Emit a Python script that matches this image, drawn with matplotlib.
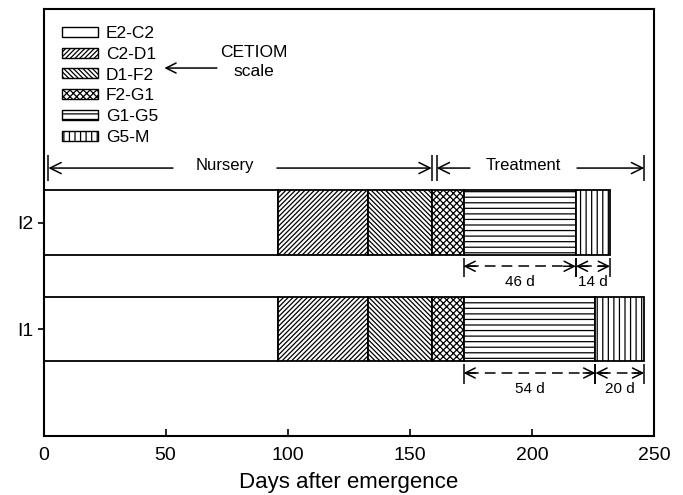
import numpy as np
import matplotlib
matplotlib.use("Agg")
import matplotlib.pyplot as plt
from matplotlib.patches import Patch

plt.rcParams['font.family'] = ['Liberation Sans', 'DejaVu Sans']
plt.rcParams['hatch.linewidth'] = 0.9

# ------------------------------------------------------------------
# data (days spent in each CETIOM stage)
stages = ['E2-C2', 'C2-D1', 'D1-F2', 'F2-G1', 'G1-G5', 'G5-M']
hatches = ['', '///////', '\\\\\\\\\\\\\\', 'xxxxx', '---', '|||']
treatments = ['I1', 'I2']
dur_I1 = [96, 37, 26, 13, 54, 20]
dur_I2 = [96, 37, 26, 13, 46, 14]
durations = [dur_I1, dur_I2]
ypos = [1, 2]
nursery_end = 159
treatment_start = 161

# ------------------------------------------------------------------
fig = plt.figure(figsize=(6.83, 4.95), dpi=100)
ax = fig.add_axes([0.0637, 0.1192, 0.8938, 0.8626])

bar_h = 0.6
for y, dur in zip(ypos, durations):
    left = 0
    for d, h in zip(dur, hatches):
        ax.barh(y, d, left=left, height=bar_h, color='white',
                edgecolor='black', linewidth=1.3, hatch=h)
        left += d

# dimension arrows below the bars for the last two stages
def dim_arrow(x0, x1, y, label):
    ax.plot([x0 + 2, x1 - 2], [y, y], color='black', lw=1.1,
            linestyle=(0, (7, 4)))
    for a, b in [(x0, x0 + 5), (x1, x1 - 5)]:
        ax.annotate('', xy=(a, y), xytext=(b, y),
                    arrowprops=dict(arrowstyle='->', lw=1.1,
                                    mutation_scale=18, shrinkA=0, shrinkB=0))
    ax.vlines([x0, x1], y - 0.1, y + 0.08, color='black', lw=1.1)
    ax.text((x0 + x1) / 2, y - 0.15, label, ha='center', va='center',
            fontsize=11)

for y, dur in zip(ypos, durations):
    s1 = sum(dur[:4])
    s2 = s1 + dur[4]
    s3 = s2 + dur[5]
    dim_arrow(s1, s2, y - 0.41, '%d d' % dur[4])
    dim_arrow(s2, s3, y - 0.41, '%d d' % dur[5])

# Nursery / Treatment arrows
ya = 2.51
def span_arrow(x0, x1, gap0, gap1, label):
    ax.annotate('', xy=(x0, ya), xytext=(gap0, ya),
                arrowprops=dict(arrowstyle='->', lw=1.1, mutation_scale=20,
                                shrinkA=0, shrinkB=0))
    ax.annotate('', xy=(x1, ya), xytext=(gap1, ya),
                arrowprops=dict(arrowstyle='->', lw=1.1, mutation_scale=20,
                                shrinkA=0, shrinkB=0))
    ax.vlines([x0, x1], ya - 0.12, ya + 0.12, color='black', lw=1.1)
    ax.text((gap0 + gap1) / 2, ya + 0.02, label, ha='center', va='center',
            fontsize=12)

treat_end = sum(dur_I1)
span_arrow(2, nursery_end, 53, 95.6, 'Nursery')
span_arrow(treatment_start, treat_end, 174.6, 218.5, 'Treatment')

# CETIOM scale note
ax.text(86, 3.50, 'CETIOM\nscale', ha='center', va='center', fontsize=12.5,
        linespacing=1.35)
ax.annotate('', xy=(49.5, 3.447), xytext=(71, 3.447),
            arrowprops=dict(arrowstyle='->', lw=1.1, mutation_scale=18,
                            shrinkA=0, shrinkB=0))

# legend
handles = [Patch(facecolor='white', edgecolor='black', hatch=h, lw=1.0)
           for h in hatches]
ax.legend(handles, stages, loc='upper left', bbox_to_anchor=(0.030, 0.960),
          frameon=False, fontsize=12.5, handlelength=2.1, handleheight=0.5,
          handletextpad=0.45, labelspacing=0.33, borderpad=0,
          borderaxespad=0)

ax.set_xlim(0, 250)
ax.set_ylim(0, 4)
ax.set_xticks([0, 50, 100, 150, 200, 250])
ax.set_yticks(ypos)
ax.set_yticklabels(treatments)
ax.tick_params(axis='x', direction='in', length=5, width=1.2, labelsize=14,
               pad=8)
ax.tick_params(axis='y', direction='out', length=4, width=1.2, labelsize=14)
for s in ax.spines.values():
    s.set_linewidth(1.5)
ax.set_xlabel('Days after emergence', fontsize=16, labelpad=6)

fig.savefig('out.png', dpi=100)
